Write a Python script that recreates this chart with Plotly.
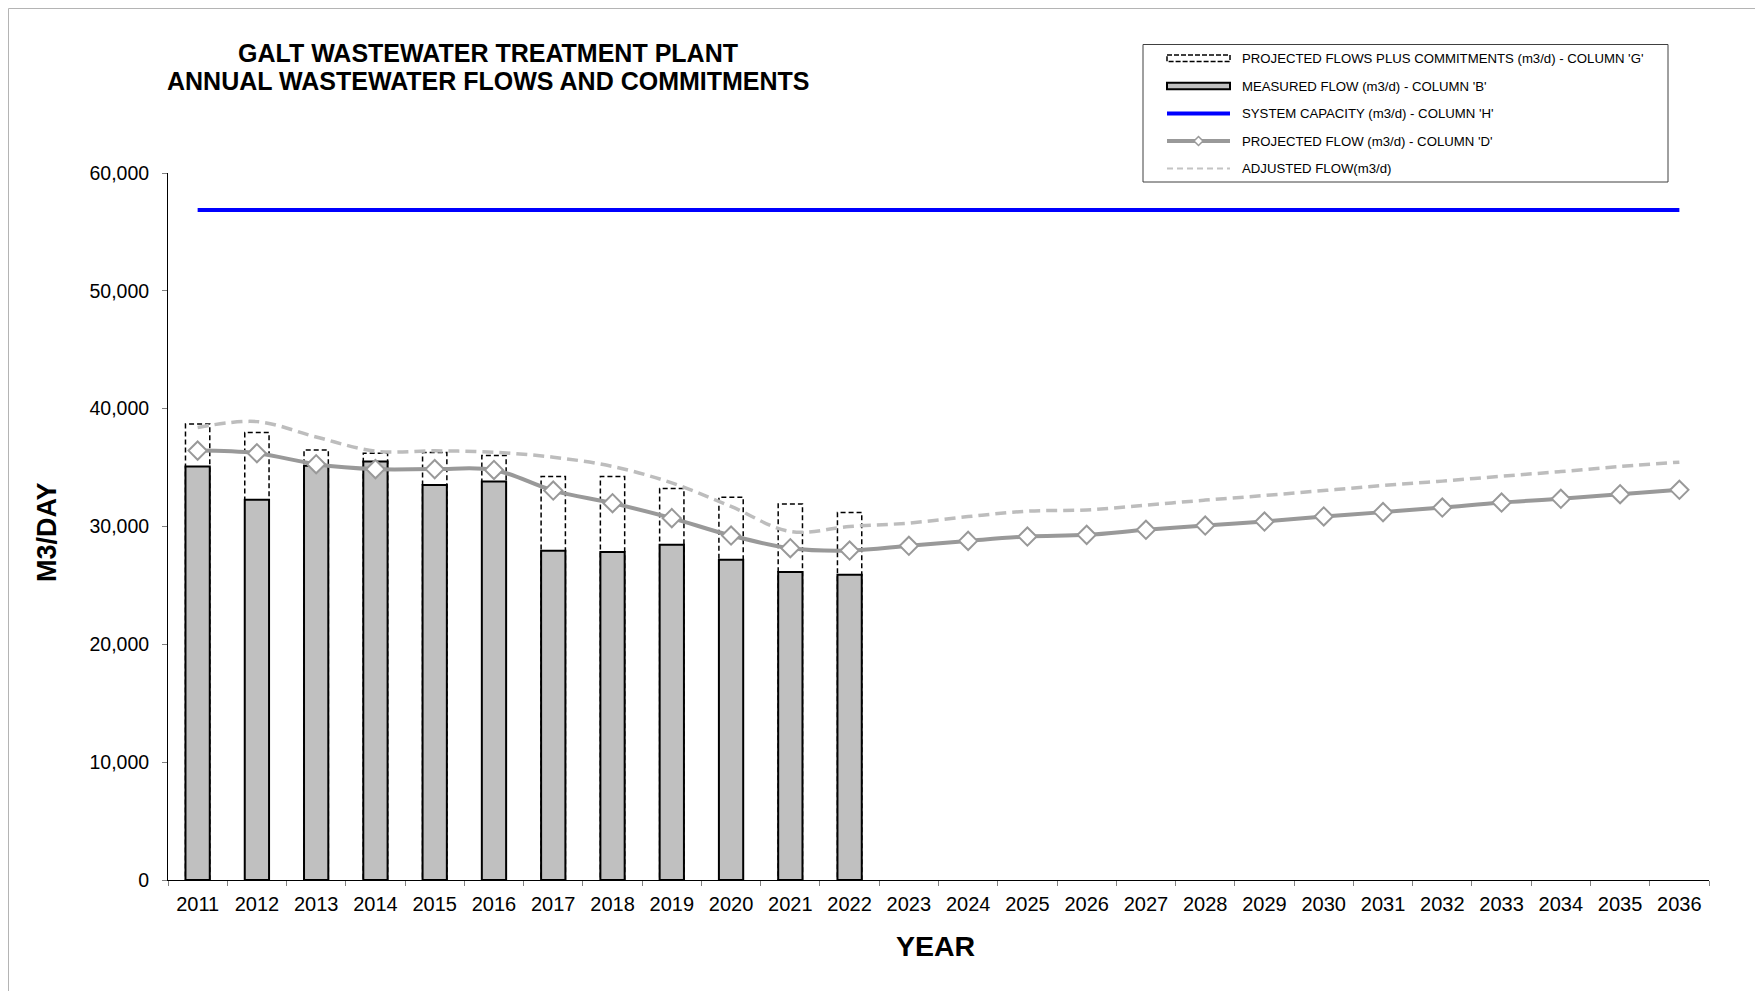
import plotly.graph_objects as go

# data
years = [str(y) for y in range(2011, 2037)]
measured_years = years[:12]
measured_flow = [35100, 32260, 35150, 35510, 33530, 33810, 27940, 27830, 28450, 27170, 26130, 25900]
flows_plus_commitments = [38700, 37970, 36500, 36220, 36280, 36020, 34240, 34240, 33220, 32490, 31920, 31190]
projected_flow = [36440, 36220, 35290, 34870, 34870, 34800, 33050, 31980, 30710, 29230, 28160, 27960, 28360,
                  28780, 29150, 29290, 29720, 30080, 30420, 30850, 31220, 31610, 32030, 32350, 32740, 33110]
adjusted_flow = [38400, 38900, 37600, 36390, 36420, 36300, 35880, 35100, 33700, 31700, 29570, 30000, 30290,
                 30840, 31300, 31410, 31810, 32240, 32630, 33050, 33480, 33850, 34270, 34660, 35090, 35460]
system_capacity = [56850] * len(years)

legend_labels = [
    "PROJECTED FLOWS PLUS COMMITMENTS (m3/d) - COLUMN 'G'",
    "MEASURED FLOW (m3/d) - COLUMN 'B'",
    "SYSTEM CAPACITY (m3/d) - COLUMN 'H'",
    "PROJECTED FLOW (m3/d) - COLUMN 'D'",
    "ADJUSTED FLOW(m3/d)",
]

# the page body has an 8px margin, so the figure sits 8px in from the window corner
OFF = 8
PAGE_W, PAGE_H = 1763, 991
W, H = PAGE_W - OFF, PAGE_H - OFF
# plot area in page pixels
L, R, T, B = 168, 1709, 173, 880
FONT = "Liberation Sans, Arial, sans-serif"
GRAY = "#999999"
BAR_W = 0.41


def px_x(px):
    return (px - L) / (R - L)


def px_y(py):
    return (B - py) / (B - T)


fig = go.Figure()

fig.add_trace(go.Bar(
    x=measured_years, y=measured_flow, width=BAR_W,
    marker=dict(color="#c0c0c0", line=dict(color="black", width=2)),
    name=legend_labels[1]))

fig.add_trace(go.Scatter(
    x=years, y=adjusted_flow, mode="lines", name=legend_labels[4],
    line=dict(color="#bdbdbd", width=3.5, dash="11px,6px", shape="spline")))

fig.add_trace(go.Scatter(
    x=years, y=projected_flow, mode="lines+markers", name=legend_labels[3],
    line=dict(color=GRAY, width=4, shape="spline"),
    marker=dict(symbol="diamond", size=14, color="white", line=dict(color=GRAY, width=2))))

fig.add_trace(go.Scatter(
    x=years, y=system_capacity, mode="lines", name=legend_labels[2],
    line=dict(color="#0000ff", width=4)))

shapes = []
# dashed outline bars (projected flows plus commitments), behind the measured bars
for i, v in enumerate(flows_plus_commitments):
    shapes.append(dict(type="rect", xref="x", yref="y", layer="below",
                       x0=i - BAR_W / 2, x1=i + BAR_W / 2, y0=0, y1=v,
                       line=dict(color="black", width=1.5, dash="5px,3px"),
                       fillcolor="white"))

# outer chart border (top and left edges)
edge = OFF + 0.5
shapes.append(dict(type="line", xref="paper", yref="paper", x0=px_x(edge), x1=px_x(PAGE_W + 5),
                   y0=px_y(edge), y1=px_y(edge), line=dict(color="#b4b4b4", width=1)))
shapes.append(dict(type="line", xref="paper", yref="paper", x0=px_x(edge), x1=px_x(edge),
                   y0=px_y(edge), y1=px_y(PAGE_H + 5), line=dict(color="#b4b4b4", width=1)))

# custom legend
shapes.append(dict(type="rect", xref="paper", yref="paper", x0=px_x(1143), x1=px_x(1668),
                   y0=px_y(44.5), y1=px_y(182), line=dict(color="#404040", width=1),
                   fillcolor="white"))
rows = [58.3, 86, 113.5, 141, 168.5]
sx0, sx1 = 1167, 1230
shapes.append(dict(type="rect", xref="paper", yref="paper", x0=px_x(sx0), x1=px_x(sx1),
                   y0=px_y(rows[0] - 3.3), y1=px_y(rows[0] + 3.3),
                   line=dict(color="black", width=1.5, dash="5px,2px")))
shapes.append(dict(type="rect", xref="paper", yref="paper", x0=px_x(sx0), x1=px_x(sx1),
                   y0=px_y(rows[1] - 3.3), y1=px_y(rows[1] + 3.3),
                   line=dict(color="black", width=2), fillcolor="#c0c0c0"))
shapes.append(dict(type="line", xref="paper", yref="paper", x0=px_x(sx0), x1=px_x(sx1),
                   y0=px_y(rows[2]), y1=px_y(rows[2]), line=dict(color="#0000ff", width=4)))
shapes.append(dict(type="line", xref="paper", yref="paper", x0=px_x(sx0), x1=px_x(sx1),
                   y0=px_y(rows[3]), y1=px_y(rows[3]), line=dict(color=GRAY, width=4)))
cx, cy = (sx0 + sx1) / 2, rows[3]
diamond = "M {} {} L {} {} L {} {} L {} {} Z".format(
    px_x(cx - 4.5), px_y(cy), px_x(cx), px_y(cy - 4.5),
    px_x(cx + 4.5), px_y(cy), px_x(cx), px_y(cy + 4.5))
shapes.append(dict(type="path", xref="paper", yref="paper", path=diamond,
                   fillcolor="white", line=dict(color=GRAY, width=1.5)))
shapes.append(dict(type="line", xref="paper", yref="paper", x0=px_x(sx0), x1=px_x(sx1),
                   y0=px_y(rows[4]), y1=px_y(rows[4]),
                   line=dict(color="#c4c4c4", width=2, dash="6px,4px")))

annotations = []
for label, ry in zip(legend_labels, rows):
    annotations.append(dict(xref="paper", yref="paper", x=px_x(1240), y=px_y(ry),
                            xanchor="left", yanchor="middle", showarrow=False, text=label,
                            font=dict(family=FONT, size=13.2, color="black")))

# title
for txt, ty in [("GALT WASTEWATER TREATMENT PLANT", 53),
                ("ANNUAL WASTEWATER FLOWS AND COMMITMENTS", 81)]:
    annotations.append(dict(xref="paper", yref="paper", x=px_x(488), y=px_y(ty),
                            xanchor="center", yanchor="middle", showarrow=False, text=txt,
                            font=dict(family=FONT, size=25, color="black", weight="bold")))

# axis titles
annotations.append(dict(xref="paper", yref="paper", x=px_x(935), y=px_y(946),
                        xanchor="center", yanchor="middle", showarrow=False, text="YEAR",
                        font=dict(family=FONT, size=28.5, color="black", weight="bold")))
annotations.append(dict(xref="paper", yref="paper", x=px_x(47), y=px_y(532),
                        xanchor="center", yanchor="middle", showarrow=False, text="M3/DAY",
                        textangle=-90,
                        font=dict(family=FONT, size=27, color="black", weight="bold")))

fig.update_layout(
    width=W, height=H,
    margin=dict(l=L - OFF, r=PAGE_W - R, t=T - OFF, b=PAGE_H - B, autoexpand=False),
    paper_bgcolor="white", plot_bgcolor="white",
    showlegend=False, barmode="overlay",
    font=dict(family=FONT, size=20, color="black"),
    shapes=shapes, annotations=annotations,
)

fig.update_xaxes(
    type="category", range=[-0.5, len(years) - 0.5],
    showline=True, linecolor="black", linewidth=1, showgrid=False, zeroline=False,
    ticks="outside", tickson="boundaries", ticklen=5, tickcolor="#808080",
    ticklabelstandoff=6,
    tickfont=dict(family=FONT, size=20, color="black"),
)
fig.update_yaxes(
    range=[0, 60000], dtick=10000, tickformat=",d",
    showline=True, linecolor="black", linewidth=1, showgrid=False, zeroline=False,
    ticks="outside", ticklen=5, tickcolor="#808080",
    ticklabelstandoff=9,
    tickfont=dict(family=FONT, size=19.5, color="black"),
)

fig.write_html("out.html")
